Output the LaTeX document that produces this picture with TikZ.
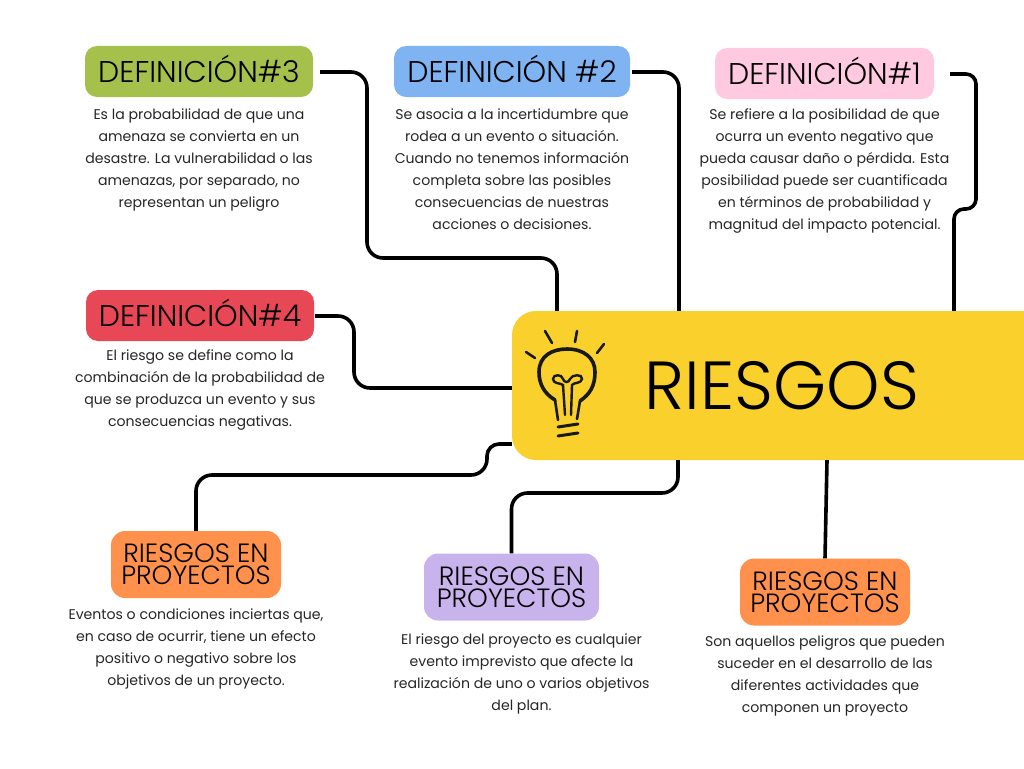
\documentclass[tikz,border=0pt]{standalone}
\usepackage{fontspec}
\setmainfont{Poppins}
\newfontfamily\headfont{Poppins Light}
\usetikzlibrary{positioning}
\definecolor{defgreen}{HTML}{A5C14B}
\definecolor{defblue}{HTML}{7FB3F2}
\definecolor{defpink}{HTML}{FFC9E0}
\definecolor{defred}{HTML}{E84855}
\definecolor{riskorange}{HTML}{FF914D}
\definecolor{riskpurple}{HTML}{C9B3EC}
\definecolor{mainyellow}{HTML}{FAD02C}
\tikzset{%
  defblock/.style={rectangle, rounded corners=12pt, text=black, inner sep=0pt, minimum height=51pt, text height=24pt, text depth=3pt, font=\headfont\fontsize{30}{34}\selectfont},
  riskblock/.style={rectangle, rounded corners=14pt, text=black, inner sep=0pt, align=center, minimum width=170pt, minimum height=67pt, font=\headfont\fontsize{26.4}{22}\selectfont},
  mainblock/.style={rectangle, fill=mainyellow, rounded corners=24pt, inner sep=0pt, minimum width=540pt, minimum height=149pt, font=\headfont\fontsize{68}{72}\selectfont},
  infotext/.style={inner sep=0pt, align=center, text=black!85, font=\fontsize{14.1}{22}\selectfont},
  line/.style={draw, line width=3.6pt, rounded corners=16pt},
  bulbline/.style={draw, line width=2.6pt, black!90, line cap=round}}
\begin{document}
\begin{tikzpicture}[x=1pt, y=-1pt, node distance=10pt]
    \useasboundingbox (0,0) rectangle (1024,768);
    % Main block, runs off the right edge
    \begin{scope}
      \clip (0,0) rectangle (1024,768);
      \node (riesgos) [mainblock] at (782,385.5) {RIESGOS};
    \end{scope}
    % Definitions
    \node (def3) [defblock, fill=defgreen, minimum width=228pt] at (199,71.5) {DEFINICIÓN\#3};
    \node (def2) [defblock, fill=defblue, minimum width=236pt] at (512,71.5) {DEFINICIÓN \#2};
    \node (def1) [defblock, fill=defpink, minimum width=219pt] at (824.5,73.5) {DEFINICIÓN\#1};
    \node (def4) [defblock, fill=defred, minimum width=228pt] at (200,315.5) {DEFINICIÓN\#4};
    \node (text3) [infotext, below=11pt of def3] {Es la probabilidad de que una\\amenaza se convierta en un\\desastre. La vulnerabilidad o las\\amenazas, por separado, no\\representan un peligro};
    \node (text2) [infotext, below=11pt of def2] {Se asocia a la incertidumbre que\\rodea a un evento o situación.\\Cuando no tenemos información\\completa sobre las posibles\\consecuencias de nuestras\\acciones o decisiones.};
    \node (text1) [infotext, below=9pt of def1] {Se refiere a la posibilidad de que\\ocurra un evento negativo que\\pueda causar daño o pérdida. Esta\\posibilidad puede ser cuantificada\\en términos de probabilidad y\\magnitud del impacto potencial.};
    \node (text4) [infotext, below=8pt of def4] {El riesgo se define como la\\combinación de la probabilidad de\\que se produzca un evento y sus\\consecuencias negativas.};
    % Risks in projects
    \node (risk1) [riskblock, fill=riskorange] at (196,564.5) {RIESGOS EN\\PROYECTOS};
    \node (risk2) [riskblock, fill=riskpurple, minimum width=175pt] at (511.5,587) {RIESGOS EN\\PROYECTOS};
    \node (risk3) [riskblock, fill=riskorange] at (825,592) {RIESGOS EN\\PROYECTOS};
    \node (text5) [infotext, below=10pt of risk1] {Eventos o condiciones inciertas que,\\en caso de ocurrir, tiene un efecto\\positivo o negativo sobre los\\objetivos de un proyecto.};
    \node (text6) [infotext, below=13pt of risk2, xshift=10pt] {El riesgo del proyecto es cualquier\\evento imprevisto que afecte la\\realización de uno o varios objetivos\\del plan.};
    \node (text7) [infotext, below=10pt of risk3] {Son aquellos peligros que pueden\\suceder en el desarrollo de las\\diferentes actividades que\\componen un proyecto};
    % Free ends beside the blocks
    \coordinate (start3) at (320,72);
    \coordinate (start2) at (632,72);
    \coordinate (start1) at (950,74);
    \coordinate (start4) at (315,316);
    % Connectors
    \draw[line] (start3) -| (367,258) -| (riesgos.north -| 557,0);
    \draw[line] (start2) -| (riesgos.north -| 679,0);
    \draw[line, rounded corners=10pt] (start1) -| (976,209) -| (riesgos.north -| 954,0);
    \draw[line] (start4) -| (354,388) -- (riesgos.west |- 0,388);
    \draw[line] (risk1.north) |- (487,475) [rounded corners=12pt] |- (riesgos.west |- 0,444);
    \draw[line] (risk2.north) |- (678,493) -- (riesgos.south -| 678,0);
    \draw[line] (risk3.north) -- (riesgos.south -| 827,0);
    % Light bulb
    \draw[bulbline, line width=3.6pt] (555,400) .. controls (545,394) and (539,385) .. (539,372) .. controls (539,356) and (552,349) .. (567,349) .. controls (584,349) and (595,358) .. (595,372) .. controls (595,386) and (590,394) .. (580,401);
    \draw[bulbline] (555,400) -- (558,420);
    \draw[bulbline] (580,401) -- (577,419);
    \draw[bulbline, line width=2.4pt] (565,415) -- (563,385) .. controls (561,383) and (553,384) .. (553,379) .. controls (553,374) and (562,374) .. (563,379) .. controls (564,383) and (569,383) .. (570,379) .. controls (572,374) and (583,374) .. (582,379) .. controls (581,384) and (574,382) .. (572,385) -- (571,415);
    \draw[bulbline] (545,331) -- (552,343);
    \draw[bulbline] (577,331) -- (575,342);
    \draw[bulbline] (604,344) -- (597,353);
    \draw[bulbline] (526,352) -- (535,358);
    \draw[bulbline, line width=3pt] (558,427) -- (578,424);
    \draw[bulbline, line width=3pt] (558,436) -- (578,433);
\end{tikzpicture}
\end{document}
